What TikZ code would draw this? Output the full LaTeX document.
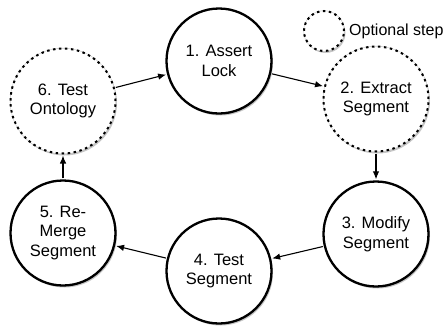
\documentclass[tikz,border=0pt]{standalone}
\usepackage{fontspec}
\setmainfont{Liberation Sans}
\usetikzlibrary{arrows.meta}
\usetikzlibrary{shadows}

\begin{document}
\begin{tikzpicture}[x=1pt,y=-1pt]
		\tikzset{stepnode/.style = {shape=circle,draw,line width=2.3pt,fill=white,minimum size=105pt,inner sep=0pt,align=center,font=\fontsize{16.5}{19.5}\selectfont,
				drop shadow={shadow xshift=1.5pt,shadow yshift=-2pt,opacity=0.45}}}
		\tikzset{optnode/.style = {stepnode,line width=2pt,dash pattern=on 2.5pt off 3.5pt,
				preaction={draw,gray!40,line width=1.2pt,solid}}}
		\tikzset{edge/.style = {-{Latex[length=8pt,width=6.5pt]},line width=1.1pt,shorten >=1pt,shorten <=1pt}}
		\useasboundingbox (0,0) rectangle (446,327);
		% vertices
		\node[stepnode] (lock) at (219,61) {1. Assert\\Lock};
		\node[optnode] (extract) at (376,99) {2. Extract\\Segment};
		\node[stepnode] (modify) at (376,234) {3. Modify\\Segment};
		\node[stepnode] (test) at (219,271) {4. Test\\Segment};
		\node[stepnode] (merge) at (63,233) {5. Re-\\Merge\\Segment};
		\node[optnode] (onto) at (63,101) {6. Test\\Ontology};
		
		% legend
		\node[optnode,minimum size=40pt] (key) at (324,31) {};
		\node[anchor=west,inner sep=0pt,font=\fontsize{16}{19.5}\selectfont] (keylabel) at (349,31) {Optional step};
		
		%edges
		\draw[edge] (onto) to (lock);
		\draw[edge] (lock) to (extract);
		\draw[edge] (extract) to (modify);
		\draw[edge] (modify) to (test);
		\draw[edge] (test) to (merge);
		\draw[edge] (merge) to (onto);
\end{tikzpicture}
\end{document}
